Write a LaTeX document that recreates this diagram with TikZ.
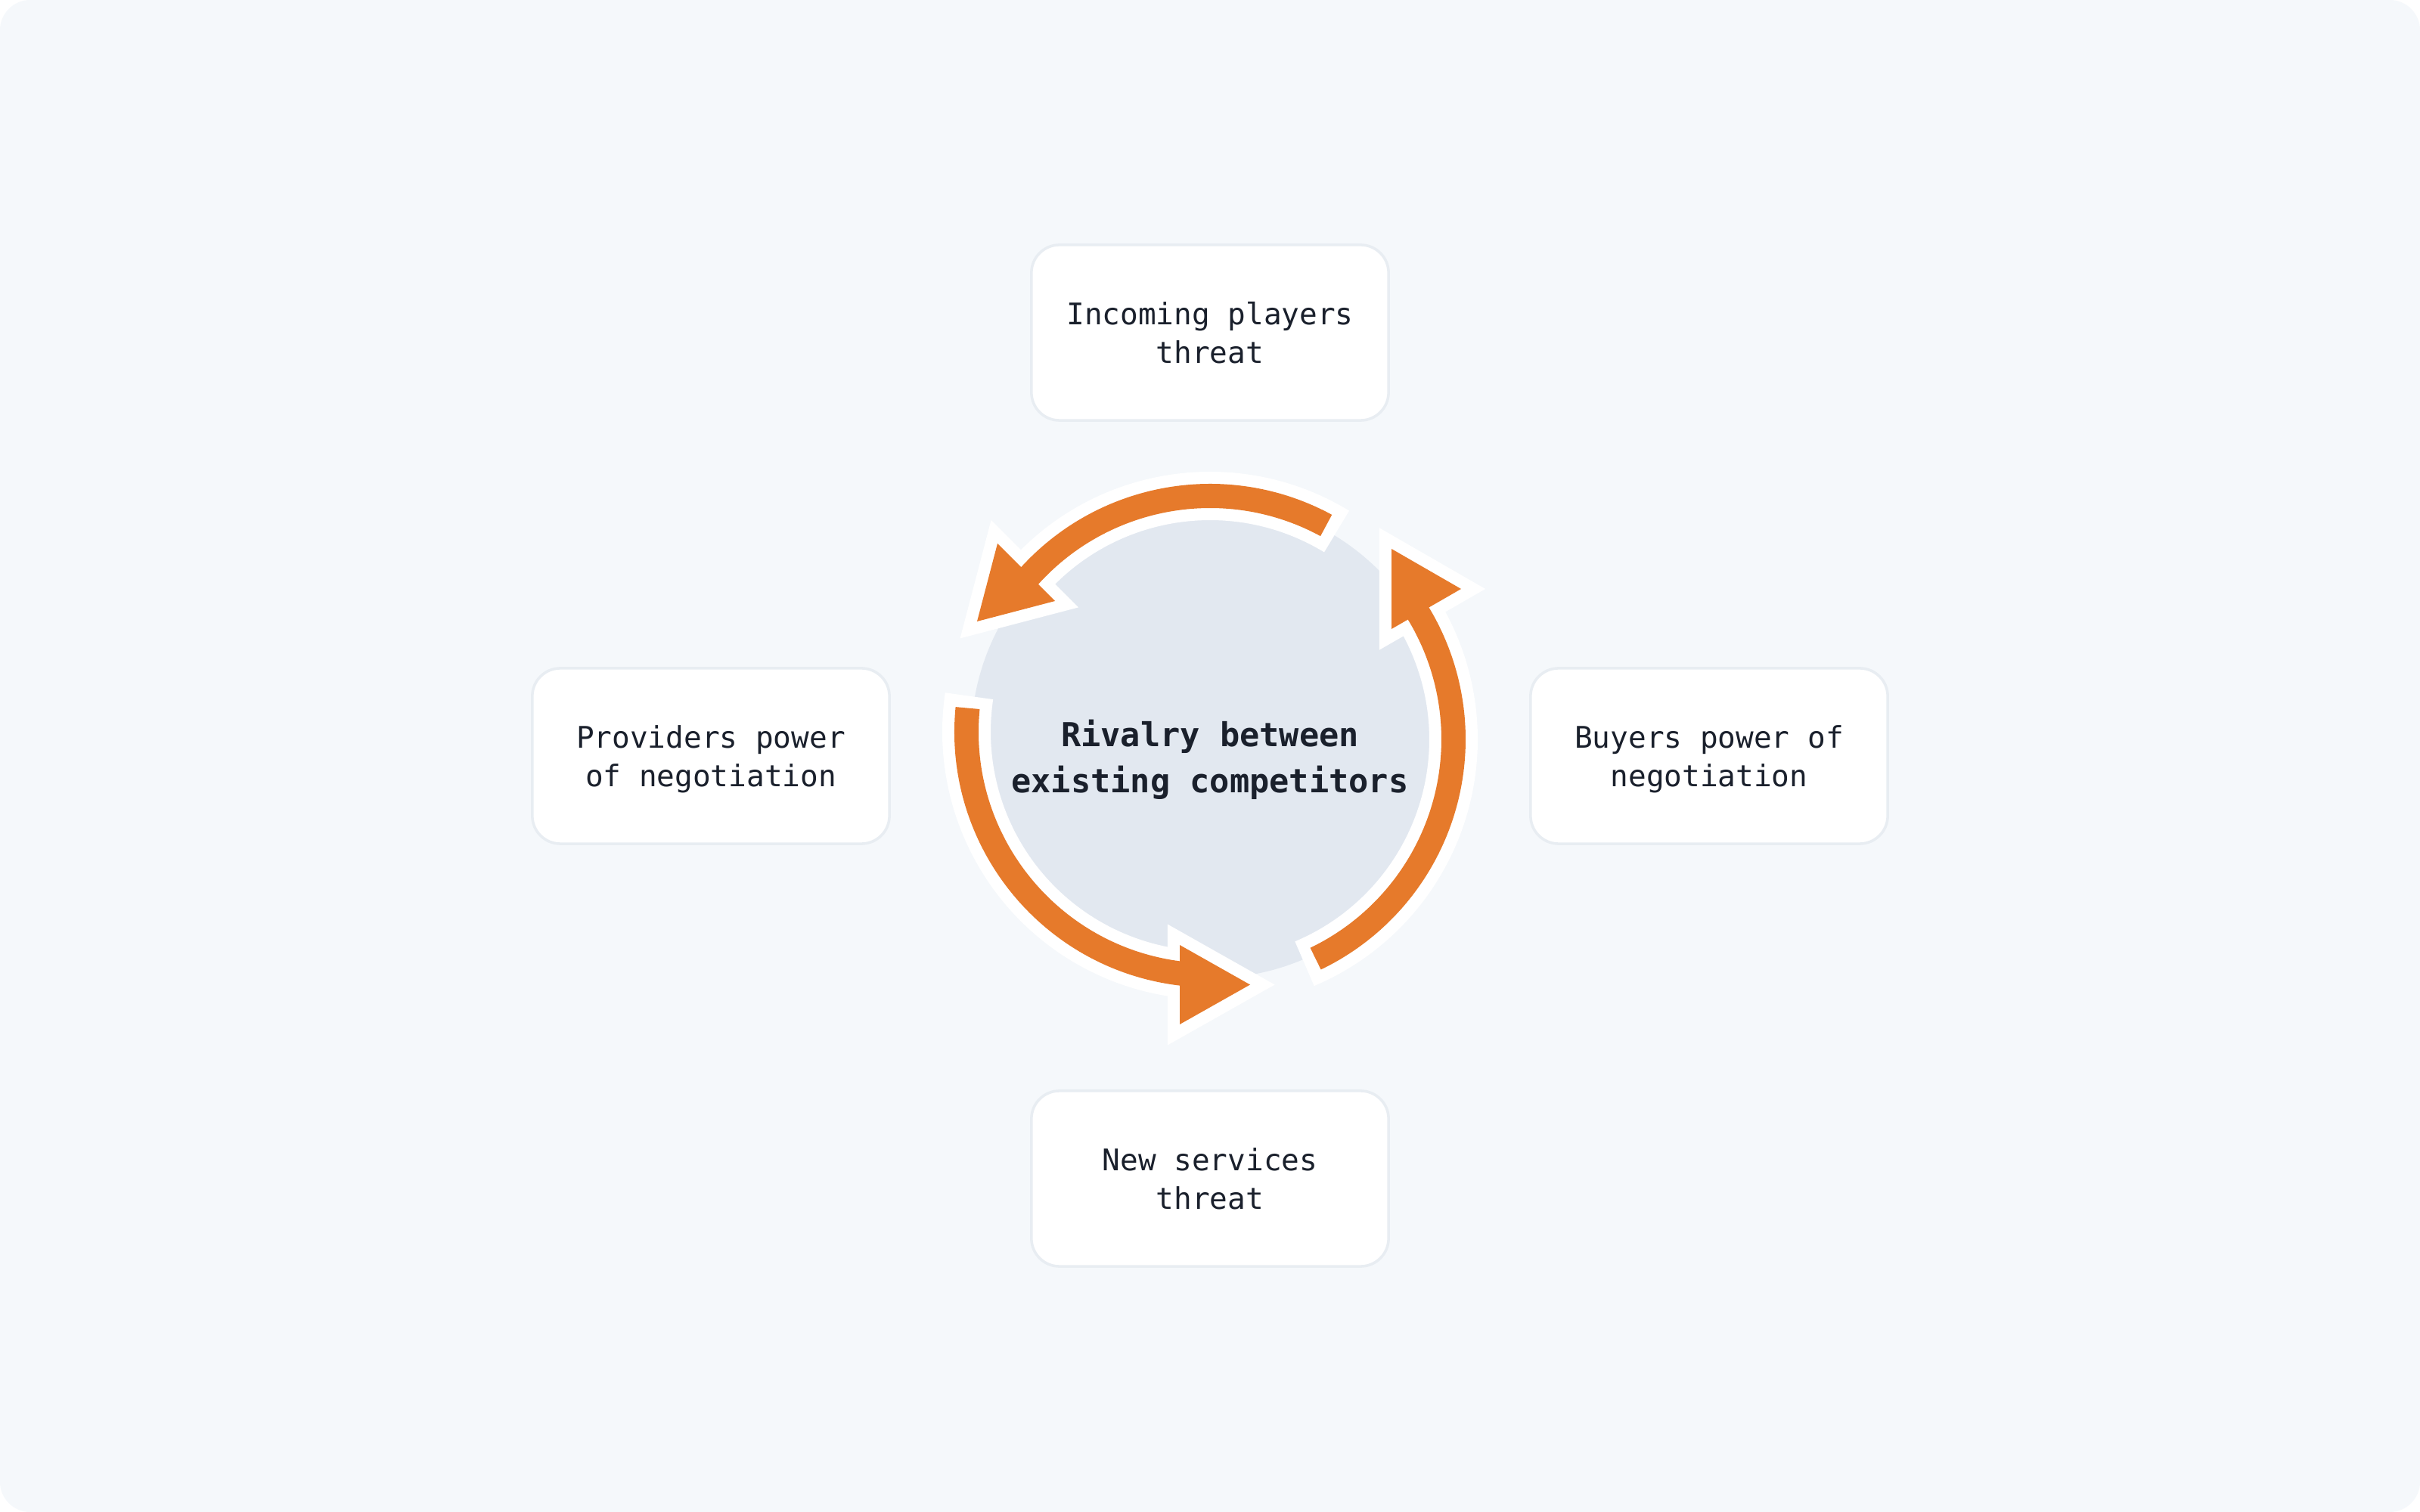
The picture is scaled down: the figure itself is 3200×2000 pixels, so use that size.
\documentclass[tikz,border=0pt]{standalone}
\usepackage{fontspec}
\setmonofont{DejaVu Sans Mono}
\definecolor{pagebg}{HTML}{F5F8FB}
\definecolor{discgray}{HTML}{E2E8F0}
\definecolor{cycleorange}{HTML}{E67A2B}
\definecolor{boxline}{HTML}{E8EDF2}
\definecolor{inkdark}{HTML}{1A202C}
\begin{document}
\begin{tikzpicture}[x=0.01cm, y=0.01cm,
    force/.style={draw=boxline, line width=1pt, fill=white, rounded corners=0.37cm,
      minimum width=4.72cm, minimum height=2.32cm, align=center, text=inkdark,
      text depth=0pt, font=\ttfamily\fontsize{11.2pt}{14.5pt}\selectfont},
    coretext/.style={align=center, text=inkdark, text depth=0pt,
      font=\ttfamily\bfseries\fontsize{12.4pt}{17.4pt}\selectfont},
    halo/.style={white, line width=0.64cm},
    halohead/.style={fill=white, draw=white, line width=0.32cm},
    shaft/.style={cycleorange, line width=0.32cm},
    headfill/.style={fill=cycleorange}]
    \useasboundingbox (-1600,-1000) rectangle (1600,1000);
    \fill[white] (-1600,-1000) rectangle (1600,1000);
    \fill[pagebg, rounded corners=0.4cm] (-1600,-1000) rectangle (1600,1000);

    % the four forces
    \node[force] (entrants) at (0,560) {Incoming players\\threat};
    \node[force] (substitutes) at (0,-559) {New services\\threat};
    \node[force] (suppliers) at (-660,0) {Providers power\\of negotiation};
    \node[force] (buyers) at (660,0) {Buyers power of\\negotiation};

    \fill[discgray] (0,22) circle (316);

    % white halos first
    \foreach \cy/\a/\b in {22/61.5/139, 22/-64.3/38, 32/174.4/264} {
            \draw[halo] (0,\cy) ++(\a-2.85:322) arc[start angle=\a-2.85, end angle=\b, radius=322];
        }
    \filldraw[halohead] (-308,178) -- (-281,281) -- (-205,205) -- cycle;
    \filldraw[halohead] (332,221) -- (240,274) -- (240,168) -- cycle;
    \filldraw[halohead] (53,-302.5) -- (-40,-250) -- (-40,-355) -- cycle;

    % orange cycle
    \foreach \cy/\a/\b in {22/61.5/139, 22/-64.3/38, 32/174.4/264} {
            \draw[shaft] (0,\cy) ++(\a:322) arc[start angle=\a, end angle=\b, radius=322];
        }
    \fill[headfill] (-308,178) -- (-281,281) -- (-205,205) -- cycle;
    \fill[headfill] (332,221) -- (240,274) -- (240,168) -- cycle;
    \fill[headfill] (53,-302.5) -- (-40,-250) -- (-40,-355) -- cycle;

    \node[coretext] (rivalry) at (0,0) {Rivalry between\\existing competitors};
\end{tikzpicture}
\end{document}
